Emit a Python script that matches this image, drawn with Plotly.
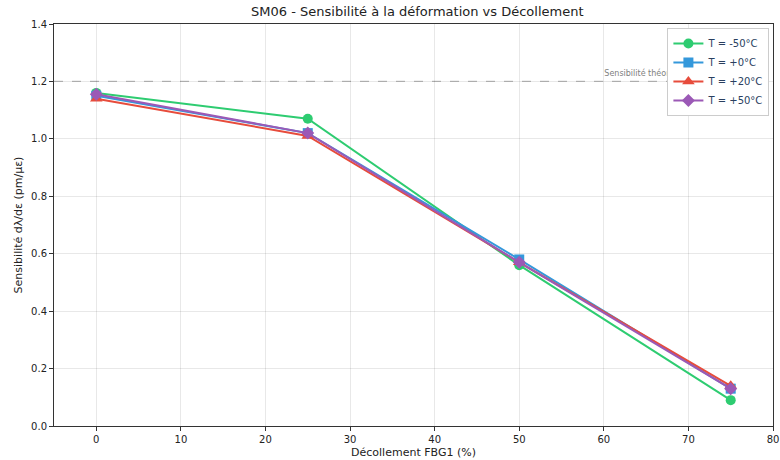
import plotly.graph_objects as go

x_vals = [0, 25, 50, 75]
series_names = ["T = -50°C", "T = +0°C", "T = +20°C", "T = +50°C"]
s_m50 = [1.16, 1.07, 0.56, 0.09]
s_0 = [1.15, 1.02, 0.58, 0.13]
s_20 = [1.14, 1.01, 0.57, 0.14]
s_50 = [1.155, 1.02, 0.57, 0.13]
theory = 1.2
theory_label = "Sensibilité théorique (1.2 pm/µε)"
x_ticks = [0, 10, 20, 30, 40, 50, 60, 70, 80]
y_ticks = [0.0, 0.2, 0.4, 0.6, 0.8, 1.0, 1.2, 1.4]

colors = ["#2ecc71", "#3498db", "#e74c3c", "#9b59b6"]
symbols = ["circle", "square", "triangle-up", "diamond"]
data = [s_m50, s_0, s_20, s_50]

fig = go.Figure()
fig.add_shape(type="line", xref="paper", x0=0, x1=1, yref="y", y0=theory, y1=theory,
              line=dict(color="rgba(128,128,128,0.5)", width=1.3, dash="dash"), layer="below")
# invisible helper carrying the label (drawn below the legend, like the reference)
fig.add_shape(type="line", xref="x", x0=-5, x1=75.6, yref="y", y0=theory, y1=theory,
              line=dict(color="rgba(0,0,0,0)", width=0), layer="below",
              label=dict(text=theory_label, textposition="end", xanchor="right", yanchor="bottom",
                         font=dict(size=8, color="gray", family="DejaVu Sans")))
for name, ys, c, s in zip(series_names, data, colors, symbols):
    fig.add_trace(go.Scatter(x=x_vals, y=ys, mode="lines+markers", name=name,
                             line=dict(color=c, width=2),
                             marker=dict(symbol=s, size=10 if s != "triangle-up" else 11, color=c)))

font_fam = "DejaVu Sans"
axis_common = dict(showline=True, linecolor="#333", linewidth=1, mirror=True,
                   ticks="outside", ticklen=4, tickcolor="#333",
                   gridcolor="rgba(0,0,0,0.09)", zeroline=False, automargin=False,
                   ticklabeloverflow="allow",
                   tickfont=dict(size=10, family=font_fam, color="#222"))
fig.update_xaxes(range=[-5, 80], tickvals=x_ticks,
                 title=dict(text="Décollement FBG1 (%)", font=dict(size=11, family=font_fam, color="#222"), standoff=4),
                 **axis_common)
fig.update_yaxes(range=[0, 1.4], tickvals=y_ticks, tickformat=".1f",
                 title=dict(text="Sensibilité dλ/dε (pm/με)", font=dict(size=11, family=font_fam, color="#222"), standoff=6),
                 **axis_common)
fig.update_layout(
    width=780, height=460,
    margin=dict(l=54, r=7, t=24, b=34),
    paper_bgcolor="white", plot_bgcolor="white",
    title=dict(text="SM06 - Sensibilité à la déformation vs Décollement", x=0.535, xanchor="center",
               y=0.985, yanchor="top", font=dict(size=13, family=font_fam, color="#222")),
    font=dict(family=font_fam),
    legend=dict(x=0.995, y=0.99, xanchor="right", yanchor="top",
                bgcolor="white", bordercolor="#ccc", borderwidth=1,
                font=dict(size=10, family=font_fam), itemwidth=30, tracegroupgap=0),
    showlegend=True,
)
fig.write_html("out.html")
